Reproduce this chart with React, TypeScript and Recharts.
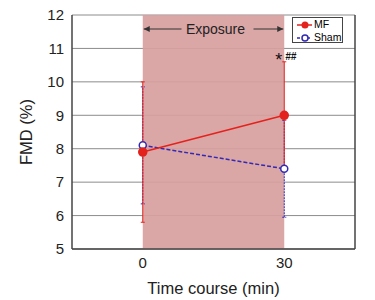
import React from 'react';
import {
  LineChart,
  Line,
  XAxis,
  YAxis,
  CartesianGrid,
  ReferenceArea,
  ReferenceLine,
  ReferenceDot,
  ErrorBar
} from 'recharts';

const TIMES = [0, 30];
const MF_VALUES = [7.9, 9.0];
const MF_ERRORS = [2.1, 1.6];
const SHAM_VALUES = [8.1, 7.4];
const SHAM_ERRORS = [1.75, 1.45];
const Y_TICKS = [5, 6, 7, 8, 9, 10, 11, 12];
const X_TICKS = [0, 30];
const EXPOSURE = { start: 0, end: 30, label: 'Exposure' };
const SIG_MARK = { time: 30, value: 10.6, star: '*', hash: '##' };
const SERIES_NAMES = ['MF', 'Sham'];

const data = TIMES.map((t, i) => ({
  time: t,
  mf: MF_VALUES[i],
  mfErr: MF_ERRORS[i],
  sham: SHAM_VALUES[i],
  shamErr: SHAM_ERRORS[i]
}));

const FONT = '"Liberation Sans", Arial, sans-serif';
const RED = '#e3221d';
const BLUE = '#3329b5';

const ExposureLabel = (props: any) => {
  const { x, y, width } = props.viewBox;
  const cx = x + width / 2 + 2;
  const cy = y + 14;
  const x1 = x + 1;
  const x2 = x + width - 1;
  return (
    <g>
      <text x={cx} y={cy} textAnchor="middle" dominantBaseline="central" fontSize={14} fontFamily={FONT} fill="#222">
        {EXPOSURE.label}
      </text>
      <line x1={x1} y1={cy} x2={cx - 34} y2={cy} stroke="#333" strokeWidth={1} />
      <line x1={cx + 38} y1={cy} x2={x2} y2={cy} stroke="#333" strokeWidth={1} />
      <path d={`M${x1} ${cy} l6 -3 l0 6 z`} fill="#333" />
      <path d={`M${x2} ${cy} l-6 -3 l0 6 z`} fill="#333" />
    </g>
  );
};

const SigLabel = (props: any) => {
  const { x, y } = props.viewBox;
  return (
    <g fontFamily={FONT} fill="#111">
      <text x={x - 2} y={y + 4} textAnchor="end" fontSize={18}>{SIG_MARK.star}</text>
      <text x={x + 1} y={y - 2} textAnchor="start" fontSize={10} fontStyle="italic" fontWeight="bold">{SIG_MARK.hash}</text>
    </g>
  );
};

const LegendBox = () => (
  <div style={{ position: 'absolute', left: 292, top: 17, width: 51, height: 26, border: '1px solid #444', background: '#fff', padding: '0 0 0 3px', fontFamily: FONT, fontSize: 10.5, lineHeight: '13px', boxSizing: 'border-box' }}>
    <div style={{ display: 'flex', alignItems: 'center' }}>
      <svg width={17} height={10}>
        <line x1={1} y1={5} x2={16} y2={5} stroke={RED} strokeWidth={1.5} />
        <circle cx={9} cy={5} r={3.5} fill={RED} />
      </svg>
      <span style={{ marginLeft: 1 }}>{SERIES_NAMES[0]}</span>
    </div>
    <div style={{ display: 'flex', alignItems: 'center' }}>
      <svg width={17} height={10}>
        <line x1={1} y1={5} x2={16} y2={5} stroke={BLUE} strokeWidth={1.5} strokeDasharray="3 2" />
        <circle cx={9} cy={5} r={3} fill="#fff" stroke={BLUE} strokeWidth={1.5} />
      </svg>
      <span style={{ marginLeft: 1 }}>{SERIES_NAMES[1]}</span>
    </div>
  </div>
);

export default function App() {
  return (
    <div style={{ position: 'absolute', left: 0, top: 0, width: 375, height: 300, background: '#fff' }}>
      <LineChart width={375} height={300} data={data} margin={{ top: 15, right: 20, bottom: 0, left: 0 }}>
        <ReferenceArea
          x1={EXPOSURE.start}
          x2={EXPOSURE.end}
          y1={5}
          y2={12}
          fill="#d89e9e"
          fillOpacity={0.92}
          stroke="none"
          label={<ExposureLabel />}
        />
        <CartesianGrid vertical={false} stroke="#8c8c8c" strokeWidth={1} />
        <XAxis
          dataKey="time"
          type="number"
          domain={[-15, 45]}
          ticks={X_TICKS}
          tickLine={false}
          axisLine={{ stroke: '#444', strokeWidth: 1.5 }}
          height={51}
          tick={{ fontSize: 15, fontFamily: FONT, fill: '#222' }}
          label={{ value: 'Time course (min)', position: 'insideBottom', offset: 6, style: { fontSize: 16.5, fontFamily: FONT, fill: '#222' } }}
        />
        <YAxis
          type="number"
          domain={[5, 12]}
          ticks={Y_TICKS}
          tickLine={false}
          axisLine={{ stroke: '#444', strokeWidth: 1.5 }}
          width={72}
          tick={{ fontSize: 15, fontFamily: FONT, fill: '#222' }}
          label={{ value: 'FMD (%)', angle: -90, position: 'insideLeft', offset: 26, style: { textAnchor: 'middle', fontSize: 16.5, fontFamily: FONT, fill: '#222' } }}
        />
        <ReferenceLine x={45} stroke="#444" strokeWidth={1.5} />
        <Line
          dataKey="sham"
          stroke={BLUE}
          strokeWidth={1.5}
          strokeDasharray="4 2"
          dot={{ r: 3.5, fill: '#fff', stroke: BLUE, strokeWidth: 1.5, strokeDasharray: '' }}
          isAnimationActive={false}
        >
          <ErrorBar dataKey="shamErr" direction="y" width={2} stroke={BLUE} strokeWidth={1} strokeDasharray="2 1" />
        </Line>
        <Line
          dataKey="mf"
          stroke={RED}
          strokeWidth={1.5}
          dot={{ r: 4, fill: RED, stroke: RED }}
          isAnimationActive={false}
        >
          <ErrorBar dataKey="mfErr" direction="y" width={2} stroke={RED} strokeWidth={1} />
        </Line>
        <ReferenceDot x={SIG_MARK.time} y={SIG_MARK.value} r={0} stroke="none" label={<SigLabel />} />
      </LineChart>
      <LegendBox />
    </div>
  );
}
